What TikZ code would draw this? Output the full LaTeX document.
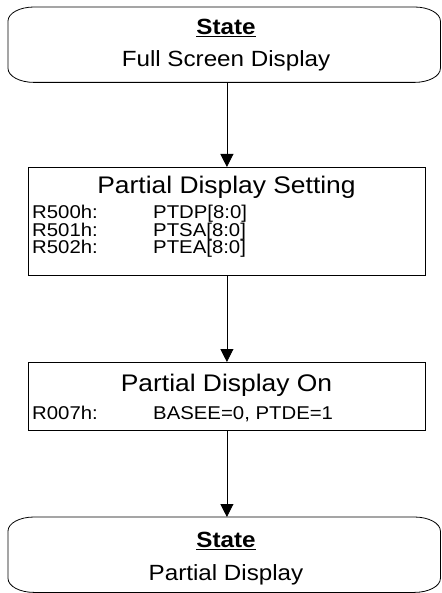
\documentclass[tikz,border=0pt]{standalone}
\usepackage{fontspec}
\setmainfont[FakeStretch=1.1]{Liberation Sans}
\usetikzlibrary{arrows.meta}
\begin{document}
\begin{tikzpicture}[x=1pt,y=-1pt,
  outline/.style={draw, line width=0.8pt},
  frame/.style={draw, line width=0.8pt, inner sep=0pt, anchor=north west},
  holder/.style={inner sep=0pt, anchor=north west},
  arr/.style={line width=0.8pt, -{Triangle[length=13pt,width=13pt]}},
  statefont/.style={font=\fontsize{22}{25}\selectfont},
  titlefont/.style={font=\fontsize{24}{27}\selectfont},
  regfont/.style={font=\fontsize{18.5}{21}\selectfont},
]
\useasboundingbox (0,0) rectangle (441,593);

% top state
\node[holder, minimum width=432, minimum height=75] (s1) at (8,7) {};
\draw[outline] ([xshift=26pt]s1.north west) -- ([xshift=-26pt]s1.north east)
  arc[start angle=90, end angle=0, x radius=26pt, y radius=14pt]
  -- ([yshift=14pt]s1.south east)
  arc[start angle=0, end angle=-90, x radius=26pt, y radius=14pt]
  -- ([xshift=26pt]s1.south west)
  arc[start angle=270, end angle=180, x radius=26pt, y radius=14pt]
  -- ([yshift=-14pt]s1.north west)
  arc[start angle=180, end angle=90, x radius=26pt, y radius=14pt] -- cycle;
\node[statefont, anchor=base] (s1a) at (226,35) {\underline{\textbf{State}}};
\node[statefont, anchor=base] (s1b) at (226,67) {Full Screen Display};

% partial display setting
\node[frame, minimum width=397, minimum height=108] (set) at (28,167) {};
\node[titlefont, anchor=base] (setT) at (226.5,193.5) {Partial Display Setting};
\node[regfont, anchor=base west, inner sep=0pt] (r1) at (32,219) {R500h:};
\node[regfont, anchor=base west, inner sep=0pt] (r2) at (32,236.5) {R501h:};
\node[regfont, anchor=base west, inner sep=0pt] (r3) at (32,254) {R502h:};
\node[regfont, anchor=base west, inner sep=0pt] (v1) at (153,219) {PTDP[8:0]};
\node[regfont, anchor=base west, inner sep=0pt] (v2) at (153,236.5) {PTSA[8:0]};
\node[regfont, anchor=base west, inner sep=0pt] (v3) at (153,254) {PTEA[8:0]};

% partial display on
\node[frame, minimum width=397, minimum height=68] (on) at (28,362) {};
\node[titlefont, anchor=base] (onT) at (226.5,391.5) {Partial Display On};
\node[regfont, anchor=base west, inner sep=0pt] (r4) at (32,419) {R007h:};
\node[regfont, anchor=base west, inner sep=0pt] (v4) at (153,419) {BASEE=0, PTDE=1};

% bottom state
\node[holder, minimum width=432, minimum height=75] (s2) at (8,517) {};
\draw[outline] ([xshift=26pt]s2.north west) -- ([xshift=-26pt]s2.north east)
  arc[start angle=90, end angle=0, x radius=26pt, y radius=14pt]
  -- ([yshift=14pt]s2.south east)
  arc[start angle=0, end angle=-90, x radius=26pt, y radius=14pt]
  -- ([xshift=26pt]s2.south west)
  arc[start angle=270, end angle=180, x radius=26pt, y radius=14pt]
  -- ([yshift=-14pt]s2.north west)
  arc[start angle=180, end angle=90, x radius=26pt, y radius=14pt] -- cycle;
\node[statefont, anchor=base] (s2a) at (226,547.5) {\underline{\textbf{State}}};
\node[statefont, anchor=base] (s2b) at (226,580) {Partial Display};

% arrows
\draw[arr] (s1.south -| set.north) -- (set.north);
\draw[arr] (set.south) -- (on.north);
\draw[arr] (on.south) -- (on.south |- s2.north);
\end{tikzpicture}
\end{document}
